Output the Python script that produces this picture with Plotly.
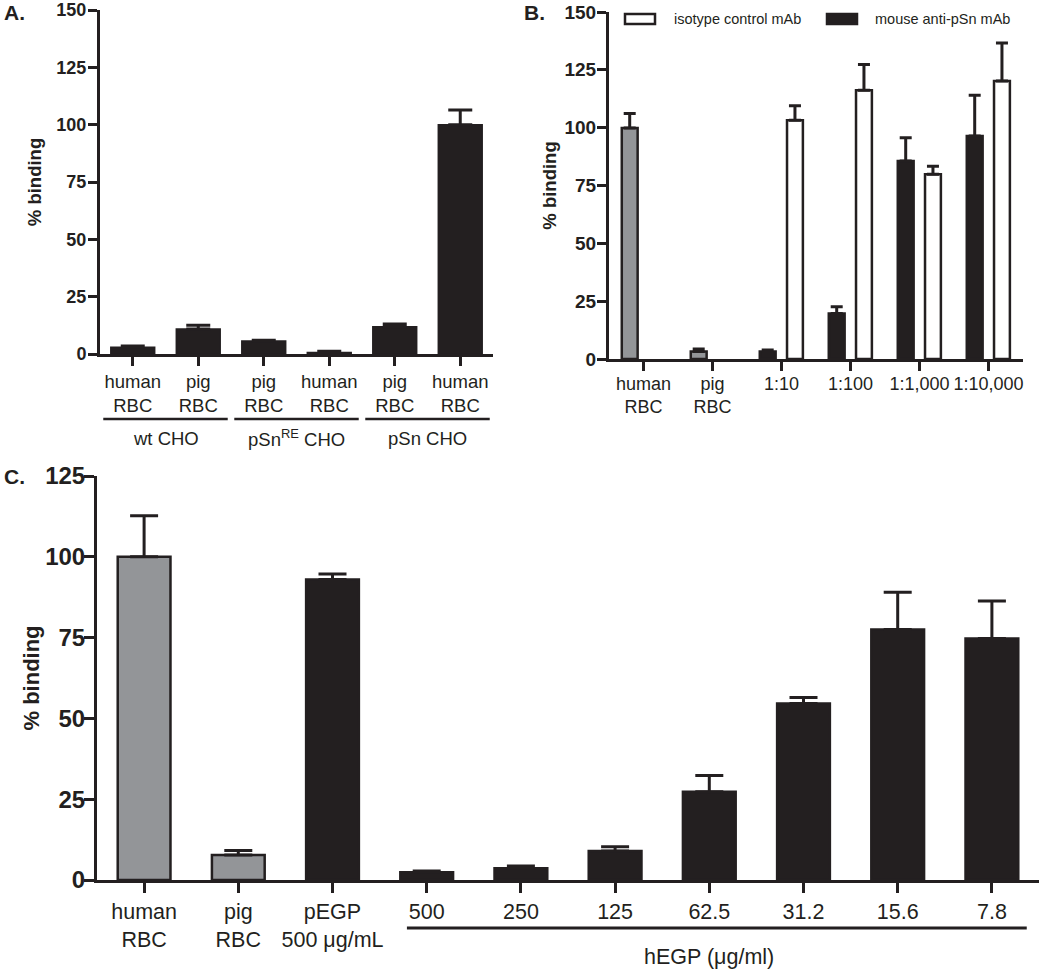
import plotly.graph_objects as go

# ---------------- data ----------------
# Panel A
a_categories = ["human<br>RBC", "pig<br>RBC", "pig<br>RBC", "human<br>RBC", "pig<br>RBC", "human<br>RBC"]
a_values = [2.9, 10.9, 5.7, 0.7, 11.9, 100.0]
a_err_top = [3.5, 12.5, 6.0, 1.2, 13.1, 106.4]
a_groups = ["wt CHO", "pSn<sup>RE</sup> CHO", "pSn CHO"]
a_group_members = [(0, 1), (2, 3), (4, 5)]

# Panel B
b_categories = ["human<br>RBC", "pig<br>RBC", "1:10", "1:100", "1:1,000", "1:10,000"]
b_control_idx = [0, 1]
b_control_values = [99.9, 3.2]
b_control_err_top = [106.1, 4.3]
b_dilution_idx = [2, 3, 4, 5]
b_anti_values = [3.2, 19.7, 85.6, 96.4]
b_anti_err_top = [3.9, 22.6, 95.6, 114.0]
b_iso_values = [103.2, 116.2, 79.9, 120.2]
b_iso_err_top = [109.5, 127.3, 83.3, 136.6]
b_series_names = ["isotype control mAb", "mouse anti-pSn mAb"]

# Panel C
c_categories = ["human<br>RBC", "pig<br>RBC", "pEGP<br>500 μg/mL", "500", "250", "125",
                "62.5", "31.2", "15.6", "7.8"]
c_values = [100.0, 7.7, 93.0, 2.4, 3.6, 9.0, 27.3, 54.6, 77.5, 74.7]
c_err_top = [112.7, 9.1, 94.7, 2.8, 4.3, 10.3, 32.3, 56.5, 89.0, 86.3]
c_n_controls = 2
c_group_label = "hEGP (μg/ml)"
c_group_members = (3, 9)

# ---------------- style ----------------
W, H = 1050, 971
BLACK = "#231f20"
GREY = "#939598"
FONT = "Liberation Sans, Arial, sans-serif"


def px_x(p):
    return p / W


def px_y(p):
    return 1 - p / H


def up_err(vals, tops):
    return [t - v for v, t in zip(vals, tops)]


fig = go.Figure()

# Panel A bars
a_x = list(range(len(a_categories)))
fig.add_trace(go.Bar(
    x=a_x, y=a_values, width=0.67, xaxis="x", yaxis="y",
    marker=dict(color=BLACK, line=dict(color=BLACK, width=1.5)),
    error_y=dict(type="data", symmetric=False, array=up_err(a_values, a_err_top),
                 arrayminus=[0] * len(a_values), color=BLACK, thickness=3, width=12),
    showlegend=False, hoverinfo="y"))

# Panel B bars
bw = 0.23
fig.add_trace(go.Bar(
    x=b_control_idx, y=b_control_values, width=bw, offset=-0.2 - bw / 2,
    xaxis="x2", yaxis="y2",
    marker=dict(color=GREY, line=dict(color=BLACK, width=2.5)),
    error_y=dict(type="data", symmetric=False, array=up_err(b_control_values, b_control_err_top),
                 arrayminus=[0] * len(b_control_values), color=BLACK, thickness=3, width=6),
    showlegend=False))
fig.add_trace(go.Bar(
    x=b_dilution_idx, y=b_anti_values, width=bw, offset=-0.2 - bw / 2,
    xaxis="x2", yaxis="y2", name=b_series_names[1],
    marker=dict(color=BLACK, line=dict(color=BLACK, width=2.5)),
    error_y=dict(type="data", symmetric=False, array=up_err(b_anti_values, b_anti_err_top),
                 arrayminus=[0] * len(b_anti_values), color=BLACK, thickness=3, width=6),
    showlegend=False))
fig.add_trace(go.Bar(
    x=b_dilution_idx, y=b_iso_values, width=bw, offset=0.195 - bw / 2,
    xaxis="x2", yaxis="y2", name=b_series_names[0],
    marker=dict(color="white", line=dict(color=BLACK, width=2.5)),
    error_y=dict(type="data", symmetric=False, array=up_err(b_iso_values, b_iso_err_top),
                 arrayminus=[0] * len(b_iso_values), color=BLACK, thickness=3, width=6),
    showlegend=False))

# Panel C bars
c_x = list(range(len(c_categories)))
c_colors = [GREY if i < c_n_controls else BLACK for i in c_x]
fig.add_trace(go.Bar(
    x=c_x, y=c_values, width=0.56, xaxis="x3", yaxis="y3",
    marker=dict(color=c_colors, line=dict(color=BLACK, width=2.5)),
    error_y=dict(type="data", symmetric=False, array=up_err(c_values, c_err_top),
                 arrayminus=[0] * len(c_values), color=BLACK, thickness=3, width=14),
    showlegend=False))

axis_common = dict(showline=True, linecolor=BLACK, linewidth=3, ticks="outside",
                   tickcolor=BLACK, tickwidth=3, showgrid=False, zeroline=False,
                   automargin=False)

fig.update_layout(
    width=W, height=H, margin=dict(l=0, r=0, t=0, b=0, autoexpand=False),
    paper_bgcolor="white", plot_bgcolor="white", barmode="overlay",
    font=dict(family=FONT, color=BLACK),
    xaxis=dict(domain=[px_x(100), px_x(493)], range=[-0.5, len(a_categories) - 0.5],
               tickvals=a_x, ticktext=a_categories, ticklen=9, anchor="y",
               tickfont=dict(size=18.5, family=FONT, color=BLACK), **axis_common),
    yaxis=dict(domain=[px_y(354), px_y(10)], range=[0, 150], tickvals=[0, 25, 50, 75, 100, 125, 150],
               ticklen=9, anchor="x", ticklabelstandoff=-2,
               tickfont=dict(size=18, family=FONT, color=BLACK, weight="bold"),
               title=dict(text="% binding", standoff=10,
                          font=dict(size=18.5, family=FONT, color=BLACK, weight="bold")),
               **axis_common),
    xaxis2=dict(domain=[px_x(609), px_x(1023)], range=[-0.5, len(b_categories) - 0.5],
                tickvals=list(range(len(b_categories))), ticktext=b_categories, ticklen=9,
                anchor="y2", ticklabelstandoff=-3,
                tickfont=dict(size=18, family=FONT, color=BLACK), **axis_common),
    yaxis2=dict(domain=[px_y(359), px_y(12)], range=[0, 150], tickvals=[0, 25, 50, 75, 100, 125, 150],
                ticklen=9, anchor="x2", ticklabelstandoff=-3,
                tickfont=dict(size=19, family=FONT, color=BLACK, weight="bold"),
                title=dict(text="% binding", standoff=4,
                           font=dict(size=18.5, family=FONT, color=BLACK, weight="bold")),
                **axis_common),
    xaxis3=dict(domain=[px_x(97), px_x(1039)], range=[-0.5, len(c_categories) - 0.5],
                tickvals=c_x, ticktext=c_categories, ticklen=10, anchor="y3",
                tickfont=dict(size=21.5, family=FONT, color=BLACK), **axis_common),
    yaxis3=dict(domain=[px_y(880), px_y(476)], range=[0, 125], tickvals=[0, 25, 50, 75, 100, 125],
                ticklen=10, anchor="x3", ticklabelstandoff=-6,
                tickfont=dict(size=24, family=FONT, color=BLACK, weight="bold"),
                title=dict(text="% binding", standoff=0,
                           font=dict(size=22, family=FONT, color=BLACK, weight="bold")),
                **axis_common),
)

shapes = []
annotations = []

# Panel A group underlines and labels
for name, (s, e) in zip(a_groups, a_group_members):
    shapes.append(dict(type="line", xref="x", yref="paper", x0=s - 0.45, x1=e + 0.45,
                       y0=px_y(419), y1=px_y(419), line=dict(color=BLACK, width=2.5)))
    annotations.append(dict(text=name, xref="x", yref="paper", x=(s + e) / 2, y=px_y(438),
                            showarrow=False, font=dict(size=18.5, family=FONT, color=BLACK),
                            xanchor="center", yanchor="middle"))

# Panel C group underline and label
cs, ce = c_group_members
shapes.append(dict(type="line", xref="x3", yref="paper", x0=cs - 0.21, x1=ce + 0.37,
                   y0=px_y(928), y1=px_y(928), line=dict(color=BLACK, width=3)))
annotations.append(dict(text=c_group_label, xref="x3", yref="paper", x=(cs + ce) / 2, y=px_y(957),
                        showarrow=False, font=dict(size=21.5, family=FONT, color=BLACK),
                        xanchor="center", yanchor="middle"))

# Panel B legend (drawn)
legend_items = [(b_series_names[0], "white", 625, 672), (b_series_names[1], BLACK, 827, 873)]
for name, fill, bx, tx in legend_items:
    shapes.append(dict(type="rect", xref="paper", yref="paper", x0=px_x(bx), x1=px_x(bx + 30),
                       y0=px_y(24), y1=px_y(14), fillcolor=fill, line=dict(color=BLACK, width=2.5)))
    annotations.append(dict(text=name, xref="paper", yref="paper", x=px_x(tx), y=px_y(19),
                            showarrow=False, xanchor="left", yanchor="middle",
                            font=dict(size=14.5, family=FONT, color=BLACK)))

# Panel letters
for letter, lx, ly in [("A.", 2, 13), ("B.", 522, 13), ("C.", 2, 476)]:
    annotations.append(dict(text=f"<b>{letter}</b>", xref="paper", yref="paper", x=px_x(lx), y=px_y(ly),
                            showarrow=False, xanchor="left", yanchor="middle",
                            font=dict(size=21, family=FONT, color=BLACK)))

fig.update_layout(shapes=shapes, annotations=annotations)
fig.write_html("out.html", config={"displayModeBar": False},
               post_script="document.body.style.margin='0';")
